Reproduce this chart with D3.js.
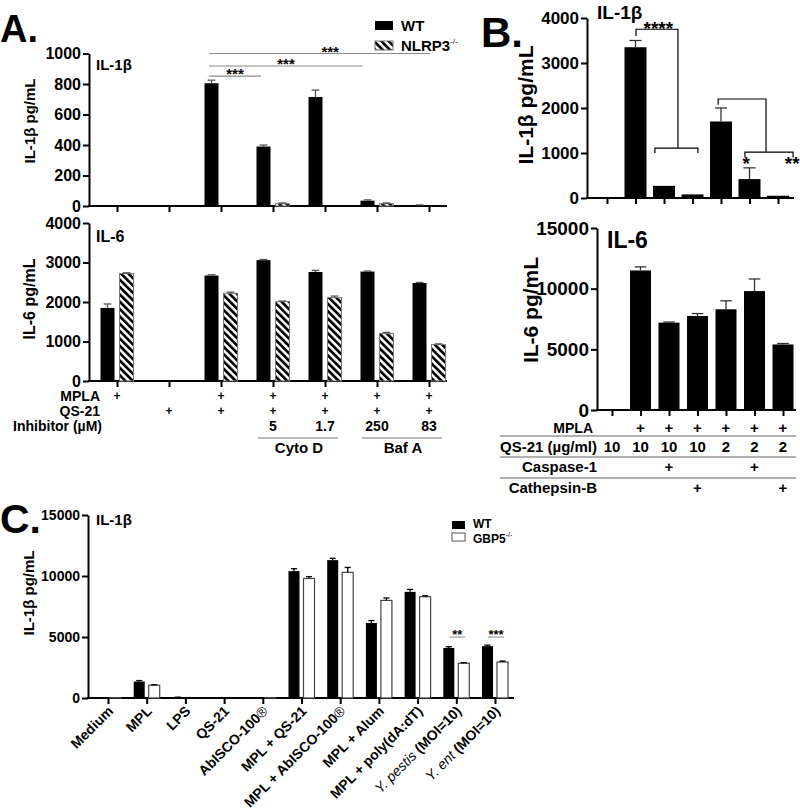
<!DOCTYPE html>
<html><head><meta charset="utf-8">
<script src="https://cdn.jsdelivr.net/npm/d3@7"></script>
<style>
body{margin:0;background:#fff}
svg{display:block;background:#fff}
text{font-family:"Liberation Sans",Arial,sans-serif;font-weight:bold;fill:#000}
</style>
</head><body>
<svg id="chart" width="800" height="810"></svg>
<script>
// ================= DATA =================
// ---- Panel A ----
const aGroups = [0,1,2,3,4,5,6];
const aMPLA = ["+","","+","+","+","+","+"];
const aQS21 = ["","+","+","+","+","+","+"];
const aInhibitor = ["","","","5","1.7","250","83"];
const aInhibitorNames = [{name:"Cyto D", from:3, to:4},{name:"Baf A", from:5, to:6}];
const aIL1bWT    = [0,0,805,390,715,35,5];
const aIL1bWTerr = [0,0,20,10,45,5,2];
const aIL1bKO    = [0,0,0,15,0,15,0];
const aIL1bKOerr = [0,0,0,5,0,5,0];
const aIL6WT     = [1850,10,2670,3060,2760,2770,2480];
const aIL6WTerr  = [100,0,20,15,40,15,15];
const aIL6KO     = [2720,0,2220,2010,2110,1200,920];
const aIL6KOerr  = [20,0,30,15,40,30,20];
const aIL1bTicks = [0,200,400,600,800,1000];
const aIL6Ticks  = [0,1000,2000,3000,4000];
const aSeries    = ["WT","NLRP3"];
const aRowLabels = ["MPLA","QS-21","Inhibitor (\u00b5M)"];
// significance lines: group-index start/end, value level
const aSig = [
  {x1:1.77, x2:2.77, y:852, label:"***", lx:2.27},
  {x1:1.77, x2:4.73, y:918, label:"***", lx:3.25},
  {x1:1.77, x2:6.02, y:1000, label:"***", lx:4.1}
];

// ---- Panel B ----
const bGroups = [0,1,2,3,4,5,6];
const bIL1b    = [0,3350,270,80,1700,420,50];
const bIL1bErr = [0,150,0,0,300,250,0];
const bIL6     = [0,11500,7200,7750,8300,9800,5400];
const bIL6Err  = [0,300,50,200,700,1000,80];
const bIL1bTicks = [0,1000,2000,3000,4000];
const bIL6Ticks  = [0,5000,10000,15000];
const bMPLA     = ["","+","+","+","+","+","+"];
const bQS21     = ["10","10","10","10","2","2","2"];
const bCaspase  = ["","","+","","","+",""];
const bCathepsin= ["","","","+","","","+"];
const bRowLabels = ["MPLA","QS-21 (\u00b5g/ml)","Caspase-1","Cathepsin-B"];
// brackets: poly-lines in (group index, value)
const bBrackets = [
  [[1.02,3600],[1.02,3750],[2.49,3750],[2.49,1110]],
  [[1.68,1000],[1.68,1110],[3.19,1110],[3.19,1000]],
  [[3.9,2070],[3.9,2200],[5.58,2200],[5.58,1020]],
  [[4.84,900],[4.84,1020],[6.53,1020],[6.53,900]]
];
const bStars = [
  {x:1.8, y:3620, label:"****"},
  {x:4.88, y:620, label:"*"},
  {x:6.5, y:620, label:"**"}
];

// ---- Panel C ----
const cGroups = ["Medium","MPL","LPS","QS-21","AbISCO-100","MPL + QS-21","MPL + AbISCO-100","MPL + Alum","MPL + poly(dA:dT)","Y. pestis","Y. ent"];
const cWT     = [0,1350,50,0,20,10400,11300,6150,8700,4100,4250];
const cWTerr  = [0,80,20,0,0,200,150,200,200,100,80];
const cKO     = [20,1050,0,0,20,9800,10300,8000,8300,2850,2950];
const cKOerr  = [0,30,0,0,0,150,400,200,80,50,80];
const cTicks  = [0,5000,10000,15000];
const cSeries = ["WT","GBP5"];
const cSig = [{g:9, label:"**", y:5000},{g:10, label:"***", y:5000}];

// ================= DRAWING =================
const svg = d3.select("#chart");
const defs = svg.append("defs");
const pat = defs.append("pattern").attr("id","hatch").attr("patternUnits","userSpaceOnUse")
  .attr("width",5.2).attr("height",5.2).attr("patternTransform","rotate(-45)");
pat.append("rect").attr("width",5.2).attr("height",5.2).attr("fill","#fff");
pat.append("rect").attr("width",2.7).attr("height",5.2).attr("fill","#000");

function styleAxis(g, fs){
  g.selectAll("path.domain").attr("stroke","#000").attr("stroke-width",2);
  g.selectAll(".tick line").attr("stroke","#000").attr("stroke-width",2);
  g.selectAll(".tick text").attr("font-size",fs).attr("font-family","Liberation Sans, Arial, sans-serif")
    .attr("font-weight","bold").attr("fill","#000");
}

function panel(o){
  const g = svg.append("g");
  const ya = g.append("g").attr("transform",`translate(${o.x0},0)`)
    .call(d3.axisLeft(o.y).tickValues(o.ticks).tickSize(6).tickSizeOuter(0).tickPadding(2).tickFormat(d3.format("d")));
  styleAxis(ya, o.tickFs);
  const xa = g.append("g").attr("transform",`translate(0,${o.y(0)})`)
    .call(d3.axisBottom(o.x).tickValues(o.groups).tickSize(6).tickFormat(""));
  xa.select("path.domain").remove();
  styleAxis(xa, o.tickFs);
  g.append("line").attr("x1",o.x0-1).attr("x2",o.xEnd).attr("y1",o.y(0)).attr("y2",o.y(0))
    .attr("stroke","#000").attr("stroke-width",2);
  o.series.forEach(s=>{
    s.values.forEach((v,i)=>{
      const cx = o.x(i) + s.off;
      if(v>0){
        g.append("rect").attr("x",cx-o.bw/2).attr("width",o.bw)
          .attr("y",o.y(v)).attr("height",o.y(0)-o.y(v))
          .attr("fill",s.fill).attr("stroke",s.stroke||"none").attr("stroke-width",s.sw||0);
      }
      const e = s.errs[i];
      if(e>0){
        const cw = o.bw*0.55;
        g.append("line").attr("x1",cx).attr("x2",cx).attr("y1",o.y(v)).attr("y2",o.y(v+e))
          .attr("stroke",o.errColor).attr("stroke-width",1.3);
        g.append("line").attr("x1",cx-cw/2).attr("x2",cx+cw/2).attr("y1",o.y(v+e)).attr("y2",o.y(v+e))
          .attr("stroke",o.errColor).attr("stroke-width",1.3);
      }
    });
  });
  return g;
}

function txt(x,y,s,fs,anchor,extra){
  const t = svg.append("text").attr("x",x).attr("y",y).attr("font-size",fs)
    .attr("text-anchor",anchor||"start").text(s);
  if(extra) extra(t);
  return t;
}
function ytitle(cx,cy,s,fs){
  svg.append("text").attr("transform",`translate(${cx},${cy}) rotate(-90)`)
    .attr("font-size",fs).attr("text-anchor","middle").attr("dominant-baseline","central").text(s);
}

// ---------- Panel A ----------
const xA = d3.scaleLinear().domain([0,6]).range([117,429]);
const yA1 = d3.scaleLinear().domain([0,1000]).range([206,53.5]);
const yA2 = d3.scaleLinear().domain([0,4000]).range([381,223]);
panel({x0:89, xEnd:447, x:xA, y:yA1, ticks:aIL1bTicks, groups:aGroups, tickFs:16, bw:14, errColor:"#555",
  series:[{values:aIL1bWT, errs:aIL1bWTerr, fill:"#000", off:-9.5},
          {values:aIL1bKO, errs:aIL1bKOerr, fill:"url(#hatch)", stroke:"#777", sw:1, off:9.5}]});
panel({x0:89, xEnd:447, x:xA, y:yA2, ticks:aIL6Ticks, groups:aGroups, tickFs:16, bw:14, errColor:"#555",
  series:[{values:aIL6WT, errs:aIL6WTerr, fill:"#000", off:-9.5},
          {values:aIL6KO, errs:aIL6KOerr, fill:"url(#hatch)", stroke:"#777", sw:1, off:9.5}]});
txt(0,42,"A.",38);
txt(96,70,"IL-1\u03b2",15);
txt(96,242,"IL-6",16);
ytitle(29,121,"IL-1\u03b2 pg/mL",15);
ytitle(29,299,"IL-6 pg/mL",16);
aSig.forEach(s=>{
  svg.append("line").attr("x1",xA(s.x1)).attr("x2",xA(s.x2)).attr("y1",yA1(s.y)).attr("y2",yA1(s.y))
    .attr("stroke","#888").attr("stroke-width",1.2);
  txt(xA(s.lx), yA1(s.y)+3, s.label, 15, "middle").attr("fill","#333");
});
svg.append("rect").attr("x",375).attr("y",21).attr("width",18).attr("height",9).attr("fill","#000");
svg.append("rect").attr("x",375).attr("y",41).attr("width",18).attr("height",9).attr("fill","url(#hatch)").attr("stroke","#777").attr("stroke-width",1);
txt(401,31,aSeries[0],15);
txt(401,51,aSeries[1],15,"start",t=>t.append("tspan").attr("font-size",8).attr("dy",-7).attr("font-weight","normal").text("-/-"));
const aRowY = [401,416,431];
txt(100,aRowY[0],aRowLabels[0],14,"end");
txt(100,aRowY[1],aRowLabels[1],14,"end");
txt(102,aRowY[2],aRowLabels[2],14,"end");
aGroups.forEach(i=>{
  if(aMPLA[i]) txt(xA(i),aRowY[0]-1,aMPLA[i],12,"middle");
  if(aQS21[i]) txt(xA(i),aRowY[1]-1,aQS21[i],12,"middle");
  if(aInhibitor[i]) txt(xA(i),aRowY[2],aInhibitor[i],14,"middle");
});
aInhibitorNames.forEach(n=>{
  svg.append("line").attr("x1",xA(n.from)-15).attr("x2",xA(n.to)+13).attr("y1",438).attr("y2",438)
    .attr("stroke","#777").attr("stroke-width",1.2);
  txt((xA(n.from)+xA(n.to))/2,453,n.name,15,"middle");
});

// ---------- Panel B ----------
const xB1 = d3.scaleLinear().domain([0,6]).range([607,778]);
const xB2 = d3.scaleLinear().domain([0,6]).range([612,783]);
const yB1 = d3.scaleLinear().domain([0,4000]).range([198,18]);
const yB2 = d3.scaleLinear().domain([0,15000]).range([410,228]);
panel({x0:587, xEnd:794, x:xB1, y:yB1, ticks:bIL1bTicks, groups:bGroups, tickFs:17, bw:22, errColor:"#333",
  series:[{values:bIL1b, errs:bIL1bErr, fill:"#000", off:0}]});
panel({x0:597, xEnd:796, x:xB2, y:yB2, ticks:bIL6Ticks, groups:bGroups, tickFs:19, bw:21, errColor:"#333",
  series:[{values:bIL6, errs:bIL6Err, fill:"#000", off:0}]});
txt(481,47,"B.",42);
txt(597,19,"IL-1\u03b2",19);
txt(607,248,"IL-6",23);
ytitle(525,105,"IL-1\u03b2 pg/mL",21);
ytitle(530,310,"IL-6 pg/mL",21);
bBrackets.forEach(p=>{
  svg.append("path").attr("d",d3.line().x(d=>xB1(d[0])).y(d=>yB1(d[1]))(p))
    .attr("fill","none").attr("stroke","#000").attr("stroke-width",1.2);
});
bStars.forEach(s=>txt(xB1(s.x), yB1(s.y), s.label, 19, "middle"));
const bRows = [bMPLA,bQS21,bCaspase,bCathepsin];
const bRowY = [433,452,472,493];
bRows.forEach((r,k)=>{
  txt(k===0?593:597,bRowY[k],bRowLabels[k],k===0?14:15,"end");
  r.forEach((v,i)=>{ if(v) txt(xB2(i),bRowY[k],v,15,"middle"); });
});
[436,457,478].forEach(yy=>svg.append("line").attr("x1",500).attr("x2",796).attr("y1",yy).attr("y2",yy)
  .attr("stroke","#666").attr("stroke-width",1.2));

// ---------- Panel C ----------
const xC = d3.scaleLinear().domain([0,10]).range([108,495]);
const yC = d3.scaleLinear().domain([0,15000]).range([698,515]);
panel({x0:88, xEnd:514, x:xC, y:yC, ticks:cTicks, groups:d3.range(cGroups.length), tickFs:14, bw:11, errColor:"#000",
  series:[{values:cWT, errs:cWTerr, fill:"#000", off:-7.5},
          {values:cKO, errs:cKOerr, fill:"#fff", stroke:"#444", sw:1.2, off:7.5}]});
txt(0,533,"C.",41);
txt(96,525,"IL-1\u03b2",15);
ytitle(28,593,"IL-1\u03b2 pg/mL",15);
cGroups.forEach((name,i)=>{
  const t = svg.append("text").attr("transform",`translate(${xC(i)+6},${712}) rotate(-45)`)
    .attr("font-size",14).attr("text-anchor","end");
  if(name==="Y. pestis"){
    t.append("tspan").attr("font-style","italic").attr("font-weight","normal").text("Y. pestis");
    t.append("tspan").text("  (MOI=10)");
  } else if(name==="Y. ent"){
    t.append("tspan").attr("font-style","italic").attr("font-weight","normal").text("Y. ent");
    t.append("tspan").text(" (MOI=10)");
  } else if(name.endsWith("AbISCO-100")){
    t.append("tspan").text(name);
    t.append("tspan").attr("font-weight","normal").text("\u00ae");
  } else t.text(name);
});
cSig.forEach(s=>{
  svg.append("line").attr("x1",xC(s.g)-7).attr("x2",xC(s.g)+9).attr("y1",yC(s.y)).attr("y2",yC(s.y))
    .attr("stroke","#888").attr("stroke-width",1);
  txt(xC(s.g)+1, yC(s.y)+2, s.label, 13, "middle").attr("fill","#333");
});
svg.append("rect").attr("x",452).attr("y",521).attr("width",13).attr("height",8).attr("fill","#000");
svg.append("rect").attr("x",452).attr("y",533).attr("width",13).attr("height",8).attr("fill","#fff").attr("stroke","#555");
txt(473,528,cSeries[0],12);
txt(473,543,cSeries[1],12,"start",t=>t.append("tspan").attr("font-size",7).attr("dy",-6).attr("font-weight","normal").text("-/-"));
</script>
</body></html>
